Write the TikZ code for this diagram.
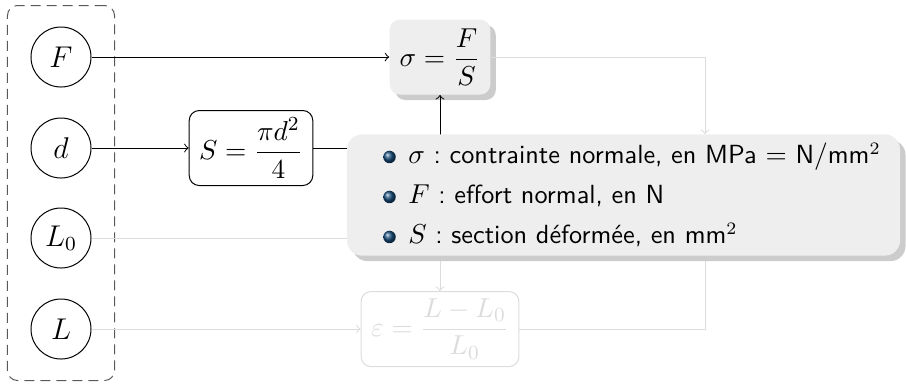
\documentclass[tikz,border=0pt]{standalone}
\usetikzlibrary{shadows,fit}
\definecolor{bulletblue}{RGB}{25,80,125}
\definecolor{boxgray}{RGB}{238,238,238}
\definecolor{shadowgray}{RGB}{204,204,204}
\definecolor{faint}{RGB}{220,220,220}
\newcommand{\ballbullet}{\tikz[baseline=-0.6ex]\shade[ball color=bulletblue] (0pt,0pt) circle[radius=2.5pt];\hspace{5pt}}
\begin{document}
\begin{tikzpicture}[x=0.4pt,y=-0.4pt,
  var/.style={circle, draw, minimum size=24pt, inner sep=0pt, font=\fontsize{11.5}{14}\selectfont},
  formula/.style={rectangle, rounded corners=4pt, minimum height=30pt, inner xsep=4pt, inner ysep=2pt, font=\fontsize{11}{13.6}\selectfont},
  conn/.style={->, line width=0.4pt},
  faintconn/.style={->, draw=faint, line width=0.4pt},
  myshadow/.style={drop shadow={shadow xshift=2.2pt, shadow yshift=-2.2pt, fill=shadowgray, opacity=1}},
  groupbox/.style={draw=black!65, dash pattern=on 4pt off 2.4pt, rounded corners=4pt, inner xsep=9.2pt, inner ysep=8.4pt},
  legendbox/.style={fill=boxgray, rounded corners=6pt, myshadow, text width=192.2pt, inner xsep=14.5pt, minimum height=48pt, align=left, font=\sffamily\fontsize{10.5}{13}\selectfont\frenchspacing}]
\useasboundingbox (0,0) rectangle (906,383);
% variables
\node[var] (F) at (61,57) {$F$};
\node[var] (d) at (61,148) {$d$};
\node[var] (L0) at (61,238) {$L_0$};
\node[var] (L) at (61,329) {$L$};
\node[groupbox, fit=(F)(L)] (grp) {};
% formulas
\node[formula, draw] (S) at (251,148) {$\displaystyle S=\frac{\pi d^2}{4}$};
\node[formula, fill=boxgray, myshadow] (sig) at (440,57) {$\displaystyle \sigma=\frac{F}{S}$};
\node[formula, draw=faint, text=faint] (eps) at (440,329) {$\displaystyle \varepsilon=\frac{L-L_0}{L_0}$};
\coordinate (Etop) at (705,134);
\coordinate (Ebot) at (705,230);
% connectors
\draw[conn] (F.east) -- (sig.west);
\draw[conn] (d.east) -- (S.west);
\draw[conn] (S.east) -| (sig.south);
\draw[faintconn] (L0.east) -| (eps.north);
\draw[faintconn] (L.east) -- (eps.west);
\draw[faintconn] (sig.east) -| (Etop);
\draw[faintconn] (eps.east) -| (Ebot);
% legend
\node[legendbox] (leg) at (623.5,195) {\mbox{\ballbullet$\sigma$ : contrainte normale, en MPa $=$ N$/$mm$^2$}\\[3pt]
\mbox{\ballbullet$F$ : effort normal, en N}\\[3pt]
\mbox{\ballbullet$S$ : section déformée, en mm$^2$}};
\end{tikzpicture}
\end{document}
